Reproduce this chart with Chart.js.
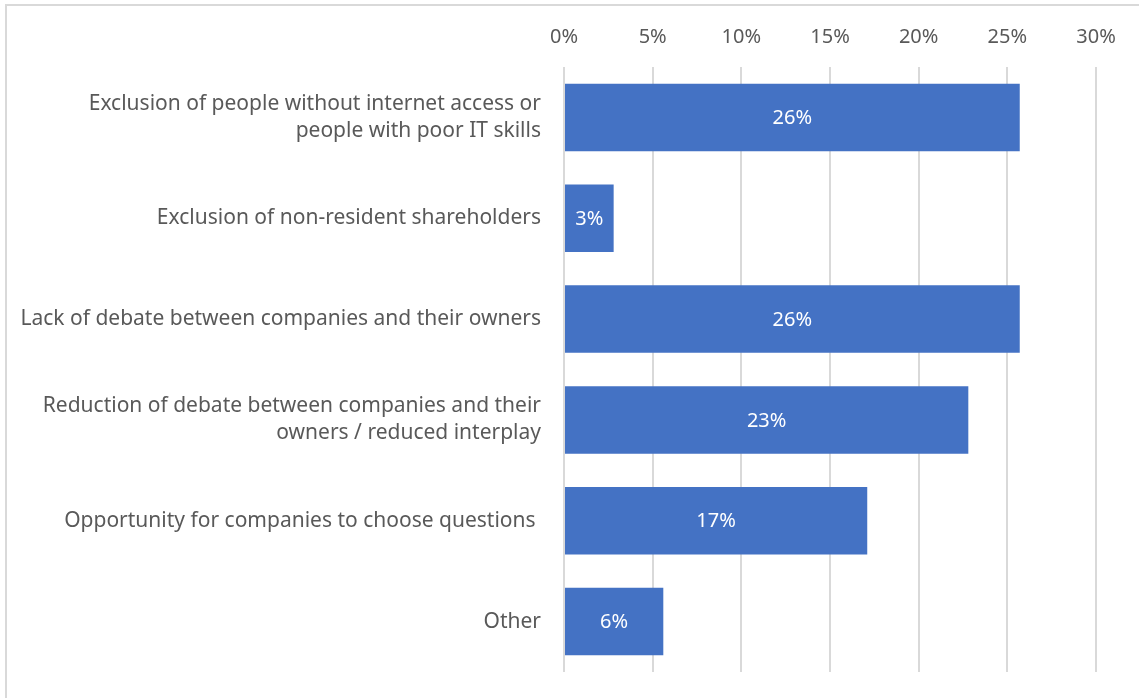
<!DOCTYPE html>
<html>
<head>
<meta charset="utf-8">
<script src="https://cdn.jsdelivr.net/npm/chart.js@4"></script>
<style>
  html, body { margin: 0; padding: 0; background: #fff; }
  #wrap { position: relative; width: 1139px; height: 698px; overflow: hidden; }
  #frame { position: absolute; left: 5px; top: 4px; right: -10px; bottom: -10px;
           border-left: 2px solid #d9d9d9; border-top: 2px solid #d9d9d9; }
  canvas { position: absolute; left: 0; top: 0; }
</style>
</head>
<body>
<div id="wrap">
  <div id="frame"></div>
  <canvas id="barChart" width="1139" height="698"></canvas>
</div>
<script>
const categories = [
    ['Exclusion of people without internet access or', 'people with poor IT skills'],
    'Exclusion of non-resident shareholders',
    'Lack of debate between companies and their owners',
    ['Reduction of debate between companies and their', 'owners / reduced interplay'],
    'Opportunity for companies to choose questions ',
    'Other'
];
const shares = [25.7, 2.8, 25.7, 22.8, 17.1, 5.6];
const shareLabels = ['26%', '3%', '26%', '23%', '17%', '6%'];
const xTicks = [0, 5, 10, 15, 20, 25, 30];

const fontFamily = "'Noto Sans', 'Open Sans', sans-serif";

// writes the white percentage inside each bar
const barLabels = {
    id: 'barLabels',
    afterDatasetsDraw(chart) {
        const c = chart.ctx;
        const meta = chart.getDatasetMeta(0);
        c.save();
        c.fillStyle = '#ffffff';
        c.font = '20px ' + fontFamily;
        c.textAlign = 'center';
        c.textBaseline = 'middle';
        meta.data.forEach(function (bar, i) {
            const mid = (bar.x + bar.base) / 2;
            c.fillText(shareLabels[i], mid, bar.y + 1);
        });
        c.restore();
    }
};

const ctx = document.getElementById('barChart').getContext('2d');
const barChart = new Chart(ctx, {
    type: 'bar',
    data: {
        labels: categories,
        datasets: [{
            data: shares,
            backgroundColor: '#4472c4',
            borderWidth: 0,
            barPercentage: 0.67,
            categoryPercentage: 1
        }]
    },
    options: {
        indexAxis: 'y',
        responsive: false,
        animation: false,
        layout: {
            padding: { top: 0, right: 43, bottom: 26, left: 0 }
        },
        scales: {
            x: {
                position: 'top',
                min: 0,
                max: 30,
                afterBuildTicks: function (scale) {
                    scale.ticks = xTicks.map(v => ({ value: v }));
                },
                afterFit: function (scale) {
                    scale.height = 67;
                },
                grid: {
                    color: '#d9d9d9',
                    lineWidth: 2,
                    drawTicks: false
                },
                border: { display: false },
                ticks: {
                    padding: 18,
                    color: '#595959',
                    font: { family: fontFamily, size: 20 },
                    callback: v => v + '%'
                }
            },
            y: {
                afterFit: function (scale) {
                    scale.width = 564;
                    // two-line labels would otherwise push the plot area up
                    scale.paddingTop = 0;
                    scale.paddingBottom = 0;
                },
                grid: { display: false },
                border: { display: false },
                ticks: {
                    padding: 15,
                    color: '#595959',
                    font: { family: fontFamily, size: 21, lineHeight: 1.29 }
                }
            }
        },
        plugins: {
            legend: { display: false },
            tooltip: { enabled: false }
        }
    },
    plugins: [barLabels]
});
</script>
</body>
</html>
